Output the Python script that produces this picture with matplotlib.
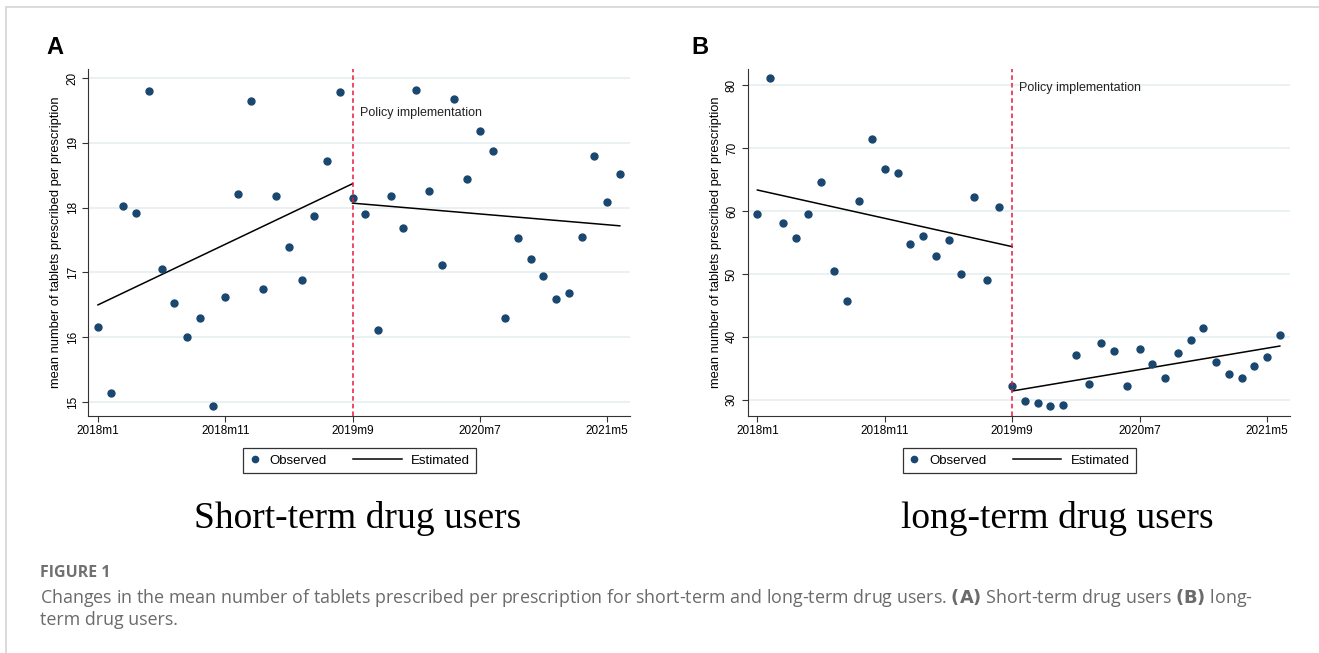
import matplotlib.pyplot as plt
from matplotlib.lines import Line2D
from matplotlib.patches import Rectangle
from matplotlib.legend_handler import HandlerLine2D

plt.rcParams['font.family'] = ['Liberation Sans', 'DejaVu Sans']

# monthly series 2018m1 .. 2021m6 (index 0..41), policy at 2019m9 (index 20)
months = list(range(42))
tick_pos = [0, 10, 20, 30, 40]
tick_labels = ['2018m1', '2018m11', '2019m9', '2020m7', '2021m5']
policy_month = 20

short_obs = [16.16, 15.14, 18.03, 17.92, 19.80, 17.06, 16.53, 16.00, 16.29, 14.94,
             16.62, 18.21, 19.65, 16.75, 18.18, 17.39, 16.88, 17.87, 18.72, 19.78,
             18.15, 17.90, 16.12, 18.18, 17.69, 19.81, 18.25, 17.12, 19.67, 18.44,
             19.18, 18.87, 16.29, 17.53, 17.21, 16.95, 16.59, 16.68, 17.55, 18.80,
             18.09, 18.52]
long_obs = [59.48, 81.17, 58.15, 55.77, 59.59, 64.57, 50.47, 45.75, 61.60, 71.52,
            66.64, 66.06, 54.76, 55.98, 52.80, 55.34, 49.94, 62.29, 49.04, 60.65,
            32.20, 29.74, 29.47, 28.94, 29.10, 37.15, 32.54, 39.00, 37.73, 32.22,
            38.05, 35.72, 33.44, 37.36, 39.43, 41.39, 35.93, 34.03, 33.50, 35.30,
            36.73, 40.22]

# estimated segments: (start month, end month, start value, end value)
short_est = [(0, 20, 16.50, 18.37), (20, 41, 18.07, 17.72)]
long_est = [(0, 20, 63.35, 54.34), (20, 41, 31.38, 38.53)]

navy = '#1a476f'
red = '#e8193c'
grid_c = '#e6eff1'


class LongLine(HandlerLine2D):
    # stata style key: line drawn longer than the (short) handle box, reaching to the left
    def get_xdata(self, legend, xdescent, ydescent, width, height, fontsize):
        xd, xm = super().get_xdata(legend, xdescent, ydescent, width, height, fontsize)
        return [-xdescent + width - 4.6 * width, -xdescent + width], xm


W, H = 1319, 653
fig = plt.figure(figsize=(W / 100, H / 100), dpi=100)
fig.patches.append(Rectangle((6 / W, -0.1), 1.5, 1.1 - 7 / H, transform=fig.transFigure,
                             fill=False, edgecolor='#d4d4d4', linewidth=1.2))

panels = [
    dict(obs=short_obs, est=short_est, ylim=(14.79, 20.14), yticks=[15, 16, 17, 18, 19, 20],
         left=88.3, right=630, letter='A', lx=55, ptext_y=19.46, title='Short-term drug users',
         tx=358),
    dict(obs=long_obs, est=long_est, ylim=(27.45, 82.6), yticks=[30, 40, 50, 60, 70, 80],
         left=747.7, right=1290, letter='B', lx=700, ptext_y=79.57, title='long-term drug users',
         tx=1057),
]

top, bottom = 69, 415.7
for p in panels:
    ax = fig.add_axes([p['left'] / W, 1 - bottom / H, (p['right'] - p['left']) / W, (bottom - top) / H])
    ax.set_xlim(-0.76, 41.8)
    ax.set_ylim(*p['ylim'])
    ax.set_yticks(p['yticks'])
    ax.set_yticklabels([str(v) for v in p['yticks']], rotation=90, va='center', fontsize=8.5)
    ax.set_xticks(tick_pos)
    ax.set_xticklabels(tick_labels, fontsize=8.5)
    ax.tick_params(length=4, width=0.8, color='#333333', pad=3)
    for s in ['top', 'right']:
        ax.spines[s].set_visible(False)
    for s in ['left', 'bottom']:
        ax.spines[s].set_color('#333333')
        ax.spines[s].set_linewidth(0.8)
    ax.grid(axis='y', color=grid_c, linewidth=1.2)
    ax.set_axisbelow(True)

    ax.plot(months, p['obs'], 'o', color=navy, ms=5, zorder=3)
    for x0, x1, y0, y1 in p['est']:
        ax.plot([x0, x1], [y0, y1], color='black', lw=1.1, zorder=2)
    ax.axvline(policy_month, color=red, lw=1.1, ls=(0, (3, 2)), zorder=4)
    ax.text(policy_month + 0.55, p['ptext_y'], 'Policy implementation', fontsize=9,
            va='center', ha='left', color='#222222')
    ax.set_ylabel('mean number of tablets prescribed per prescription', fontsize=9.3, labelpad=3)

    fig.text(p['lx'] / W, 1 - 48 / H, p['letter'], fontsize=17, fontweight='bold',
             ha='center', va='center')

    cx = (p['left'] + p['right']) / 2 + 0.5
    est_key = Line2D([], [], color='black', lw=1.1)
    handles = [Line2D([], [], marker='o', ls='none', color=navy, ms=4.5), est_key]
    leg = fig.legend(handles, ['Observed', 'Estimated'], ncol=2, loc='center',
                     bbox_to_anchor=(cx / W, 1 - 460.5 / H), fontsize=9.5, frameon=True,
                     fancybox=False, edgecolor='black', borderpad=0.45, handlelength=0.8,
                     columnspacing=4.9, handletextpad=0.7, borderaxespad=0,
                     handler_map={est_key: LongLine()})
    leg.get_frame().set_linewidth(0.9)

    fig.text(p['tx'] / W, 1 - 518 / H, p['title'], fontsize=27, family='Liberation Serif',
             ha='center', va='center')

cap_c = '#6b6b6b'
fig.text(40 / W, 1 - 573 / H, 'FIGURE 1', fontsize=11.5, family='Open Sans', fontweight='bold',
         color='#707070', va='center')
fig.text(40 / W, 1 - 598 / H,
         'Changes in the mean number of tablets prescribed per prescription for short-term and '
         'long-term drug users. $\\bf{(A)}$ Short-term drug users $\\bf{(B)}$ long-',
         fontsize=12.9, family='Open Sans', color=cap_c, va='center')
fig.text(40 / W, 1 - 620 / H, 'term drug users.', fontsize=12.9, family='Open Sans',
         color=cap_c, va='center')

fig.savefig('out.png', dpi=100)
